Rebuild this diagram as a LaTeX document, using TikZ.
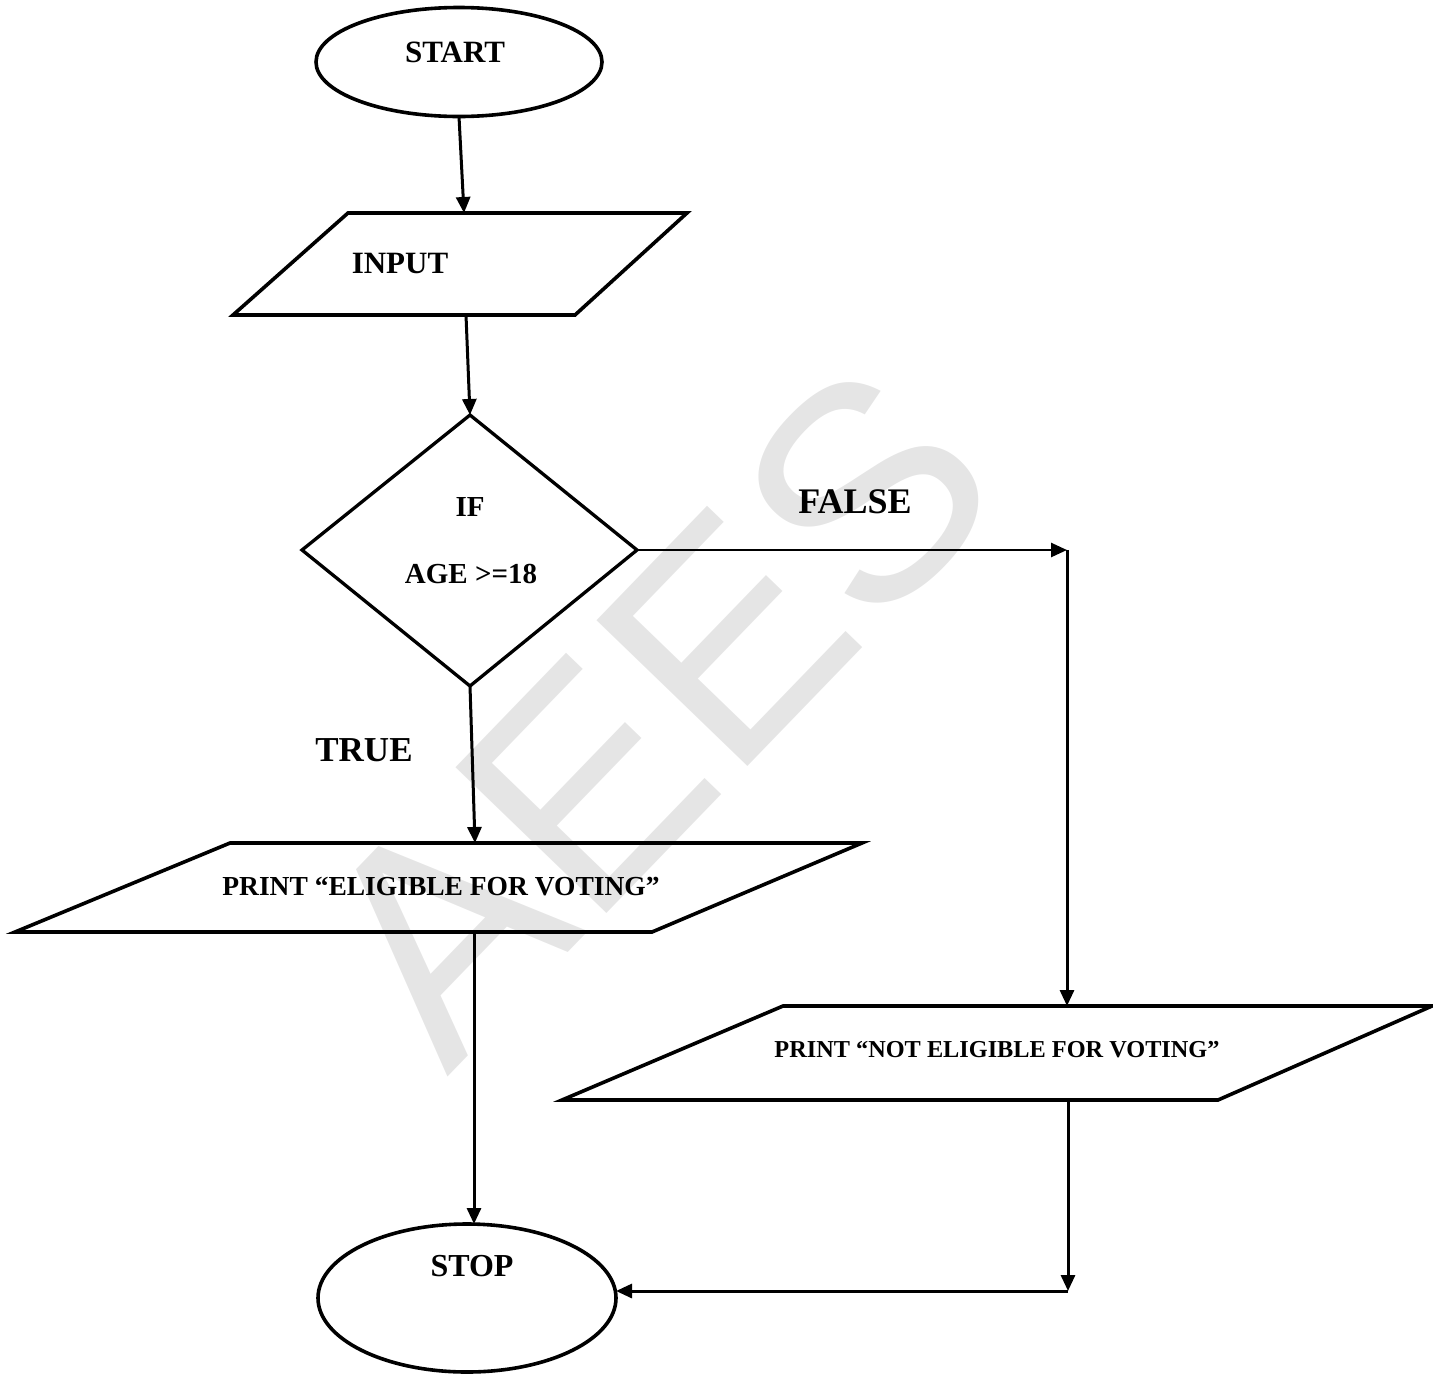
\documentclass[tikz,border=0pt]{standalone}
\usepackage{fontspec}
\setmainfont{Liberation Serif}
\newfontfamily\wmfont{Liberation Sans}
\usetikzlibrary{shapes.geometric,arrows.meta}

\begin{document}
\begin{tikzpicture}[x=1pt,y=-1pt,
  shapeline/.style={draw=black, line width=3.6pt, line join=miter},
  term/.style={ellipse, draw=black, line width=3.6pt, inner sep=0pt, outer sep=0pt},
  flow/.style={draw=black, line width=3pt, -{Triangle[length=16pt,width=14pt]}},
  lbl/.style={font=\bfseries\fontsize{#1}{#1}\selectfont, inner sep=0pt},
]
\useasboundingbox (0,0) rectangle (1433,1377);

% faint background lettering
\node[rotate=46, text=black!10, font=\wmfont\fontsize{305}{305}\selectfont, inner sep=0pt] (wm) at (655,712) {AEES};

% start terminal
\node[term, minimum width=286pt, minimum height=109pt] (start) at (459,62) {};
\node[lbl=31] (starttxt) at (455,52) {START};

% input
\coordinate (in-tl) at (348,213);
\coordinate (in-tr) at (687,213);
\coordinate (in-br) at (575,315);
\coordinate (in-bl) at (233,315);
\draw[shapeline] (in-tl) -- (in-tr) -- (in-br) -- (in-bl) -- cycle;
\node[lbl=31] (intxt) at (400,263) {INPUT};
\coordinate (in-top) at (464,213);
\coordinate (in-bot) at (466,315);

% decision
\coordinate (dia-t) at (470,415);
\coordinate (dia-r) at (637,550);
\coordinate (dia-b) at (470,686);
\coordinate (dia-l) at (302,550);
\draw[shapeline, line width=3.3pt] (dia-t) -- (dia-r) -- (dia-b) -- (dia-l) -- cycle;
\node[lbl=29] (iftxt) at (470,507) {IF};
\node[lbl=29] (agetxt) at (471,574) {AGE >=18};

% branch labels
\node[lbl=36] (falsetxt) at (855,502) {FALSE};
\node[lbl=35] (truetxt) at (364,750) {TRUE};

% eligible output
\coordinate (el-tl) at (230,843);
\coordinate (el-tr) at (862,843);
\coordinate (el-br) at (652,932);
\coordinate (el-bl) at (15,932);
\draw[shapeline] (el-tl) -- (el-tr) -- (el-br) -- (el-bl) -- cycle;
\node[lbl=27.5] (eltxt) at (441,887) {PRINT “ELIGIBLE FOR VOTING”};
\coordinate (el-top) at (475,843);
\coordinate (el-bot) at (474,932);

% not eligible output
\coordinate (ne-tl) at (783,1006);
\coordinate (ne-tr) at (1432,1006);
\coordinate (ne-br) at (1218,1100);
\coordinate (ne-bl) at (562,1100);
\draw[shapeline] (ne-tl) -- (ne-tr) -- (ne-br) -- (ne-bl) -- cycle;
\node[lbl=24.3] (netxt) at (997,1050) {PRINT “NOT ELIGIBLE FOR VOTING”};
\coordinate (ne-top) at (1067,1006);
\coordinate (ne-bot) at (1068,1100);

% stop terminal
\node[term, minimum width=298pt, minimum height=148pt] (stop) at (467,1298) {};
\node[lbl=32] (stoptxt) at (472,1266) {STOP};

% connectors
\coordinate (fcorner) at (1067,550);
\coordinate (scorner) at (1068,1291);
\draw[flow] (start.south) -- (in-top);
\draw[flow] (in-bot) -- (dia-t);
\draw[flow, line width=2.6pt] (dia-r) -- (fcorner);
\draw[flow] (fcorner) -- (ne-top);
\draw[flow] (dia-b) -- (el-top);
\draw[flow] (el-bot) -- (stop.north -| el-bot);
\draw[flow] (ne-bot) -- (scorner);
\draw[flow] (scorner) -- (stop.east |- scorner);
\end{tikzpicture}
\end{document}
